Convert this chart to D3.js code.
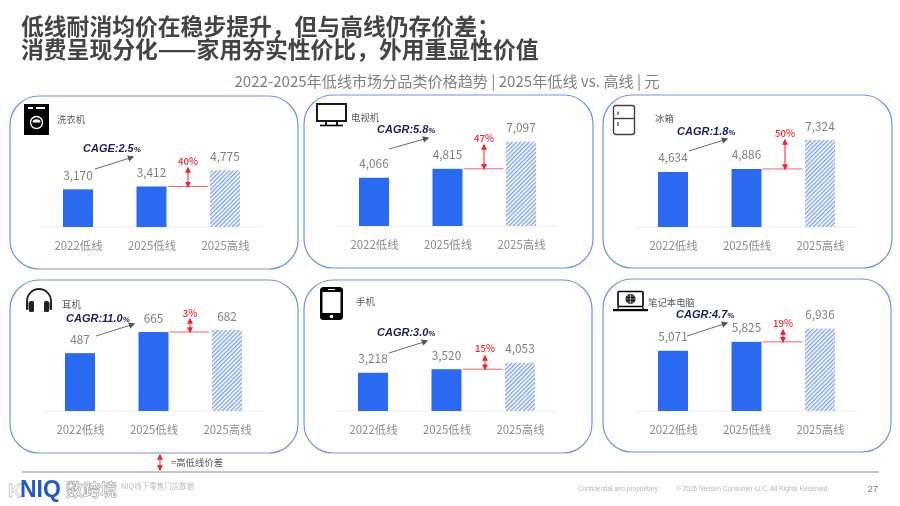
<!DOCTYPE html>
<html>
<head>
<meta charset="utf-8">
<script src="https://cdn.jsdelivr.net/npm/d3@7"></script>
<style>
    html, body { margin: 0; padding: 0; background: #fff; }
    svg { display: block; filter: blur(0.35px); }
    text { font-family: "Noto Sans CJK SC", "Noto Sans", sans-serif; }
    .latin { font-family: "Liberation Sans", sans-serif; }
</style>
</head>
<body>
<div id="chart"></div>
<script>
// chart data
var categories = ["2022低线", "2025低线", "2025高线"];
var products = ["洗衣机", "电视机", "冰箱", "耳机", "手机", "笔记本电脑"];
var prices = [
    [3170, 3412, 4775],
    [4066, 4815, 7097],
    [4634, 4886, 7324],
    [487, 665, 682],
    [3218, 3520, 4053],
    [5071, 5825, 6936]
];
var cagrLabels = ["CAGE:2.5", "CAGR:5.8", "CAGR:1.8", "CAGR:11.0", "CAGR:3.0", "CAGR:4.7"];
var gapLabels = ["40%", "47%", "50%", "3%", "15%", "19%"];
var axisMax = [8000, 8000, 8000, 800, 8000, 8000];

var titleLines = ["低线耐消均价在稳步提升，但与高线仍存价差；", "消费呈现分化——家用夯实性价比，外用重显性价值"];
var subtitle = "2022-2025年低线市场分品类价格趋势 | 2025年低线 vs. 高线 | 元";

// panel layout, all in page pixels
var layout = [
    {x: 10, y: 96, w: 288, bar0: 78, base: 227, nameX: 57, nameY: 119, cagrX: 83, cagrY: 148, arrow: [95, 169, 133, 157], gapX: 188, gapTop: 168, gapLabelY: 161},
    {x: 304, y: 95, w: 289, bar0: 374, base: 226, nameX: 351, nameY: 117, cagrX: 377, cagrY: 129, arrow: [389, 149, 428, 138], gapX: 484, gapTop: 145, gapLabelY: 138},
    {x: 603, y: 95, w: 289, bar0: 673, base: 227, nameX: 655, nameY: 118, cagrX: 677, cagrY: 131, arrow: [689, 151, 727, 139], gapX: 785, gapTop: 140, gapLabelY: 133},
    {x: 10, y: 280, w: 288, bar0: 80, base: 411, nameX: 62, nameY: 304, cagrX: 66, cagrY: 318, arrow: [96, 336, 134, 324], gapX: 190, gapTop: 319, gapLabelY: 313},
    {x: 304, y: 280, w: 288, bar0: 373, base: 411, nameX: 356, nameY: 301, cagrX: 377, cagrY: 332, arrow: [389, 353, 427, 341], gapX: 485, gapTop: 356, gapLabelY: 348},
    {x: 603, y: 279, w: 288, bar0: 673, base: 411, nameX: 648, nameY: 302, cagrX: 676, cagrY: 314, arrow: [687, 336, 727, 323], gapX: 783, gapTop: 330, gapLabelY: 323}
];

var PANEL_H = 173;
var BAR_W = 30;
var BAR_STEP = 73.5;
var PLOT_H = 95;
var BLUE = "#2a6af0";
var RED = "#f0232d";

var svg = d3.select("#chart").append("svg")
    .attr("width", 900)
    .attr("height", 506);

var defs = svg.append("defs");

var hatch = defs.append("pattern")
    .attr("id", "hatch")
    .attr("patternUnits", "userSpaceOnUse")
    .attr("width", 3)
    .attr("height", 3)
    .attr("patternTransform", "rotate(45)");
hatch.append("rect").attr("width", 3).attr("height", 3).attr("fill", "#fff");
hatch.append("rect").attr("width", 1.4).attr("height", 3).attr("fill", "#7fa3ea");

function addMarker(id, color, size) {
    defs.append("marker")
        .attr("id", id)
        .attr("viewBox", "0 0 10 10")
        .attr("refX", 8)
        .attr("refY", 5)
        .attr("markerUnits", "userSpaceOnUse")
        .attr("markerWidth", size)
        .attr("markerHeight", size)
        .attr("orient", "auto-start-reverse")
        .append("path")
        .attr("d", "M0,0L10,5L0,10Z")
        .attr("fill", color);
}
addMarker("head-grey", "#555", 6.5);
addMarker("head-red", RED, 6);

// heading
svg.selectAll(".title")
    .data(titleLines)
    .enter()
    .append("text")
    .classed("title", true)
    .attr("x", 21)
    .attr("y", function(d, i) {return 35 + i * 23;})
    .attr("font-size", 22.8)
    .attr("font-weight", 700)
    .attr("fill", "#444")
    .text(function(d) {return d;});

svg.append("text")
    .attr("x", 447)
    .attr("y", 87)
    .attr("text-anchor", "middle")
    .attr("font-size", 15.1)
    .attr("fill", "#7f7f7f")
    .text(subtitle);

function doubleArrow(g, x, y0, y1) {
    g.append("line")
        .attr("x1", x).attr("x2", x)
        .attr("y1", y0).attr("y2", y1)
        .attr("stroke", RED)
        .attr("stroke-width", 1)
        .attr("marker-start", "url(#head-red)")
        .attr("marker-end", "url(#head-red)");
}

function drawPanel(i) {
    var box = layout[i];
    var values = prices[i];
    var g = svg.append("g").classed("panel", true);

    g.append("rect")
        .attr("x", box.x)
        .attr("y", box.y)
        .attr("width", box.w)
        .attr("height", PANEL_H)
        .attr("rx", 29)
        .attr("fill", "#fff")
        .attr("stroke", "#6d95e2")
        .attr("stroke-width", 1.2);

    var xScale = d3.scalePoint()
        .domain(categories)
        .range([box.bar0, box.bar0 + 2 * BAR_STEP]);
    var yScale = d3.scaleLinear()
        .domain([0, axisMax[i]])
        .range([box.base, box.base - PLOT_H]);

    // category axis, no ticks, light domain line
    var axis = g.append("g")
        .attr("transform", "translate(0," + box.base + ")")
        .call(d3.axisBottom(xScale).tickSize(0).tickPadding(14.5));
    axis.select(".domain").remove();
    axis.selectAll("text")
        .attr("font-size", 11.4)
        .attr("font-family", "'Noto Sans CJK SC', sans-serif")
        .attr("fill", "#8c8c8c");
    g.append("line")
        .attr("x1", box.bar0 - 37)
        .attr("x2", box.bar0 + 2 * BAR_STEP + 37)
        .attr("y1", box.base)
        .attr("y2", box.base)
        .attr("stroke", "#eeeeee");

    g.selectAll(".bar")
        .data(values)
        .enter()
        .append("rect")
        .classed("bar", true)
        .attr("x", function(d, j) {return xScale(categories[j]) - BAR_W / 2;})
        .attr("y", function(d) {return yScale(d);})
        .attr("width", BAR_W)
        .attr("height", function(d) {return box.base - yScale(d);})
        .attr("fill", function(d, j) {return j == 2 ? "url(#hatch)" : BLUE;});

    g.selectAll(".value")
        .data(values)
        .enter()
        .append("text")
        .classed("value", true)
        .attr("x", function(d, j) {return xScale(categories[j]);})
        .attr("y", function(d) {return yScale(d) - 9.5;})
        .attr("text-anchor", "middle")
        .attr("font-size", 11.8)
        .attr("fill", "#7f7f7f")
        .text(d3.format(","));

    g.append("text")
        .attr("x", box.nameX)
        .attr("y", box.nameY + 3.5)
        .attr("font-size", 9.4)
        .attr("fill", "#595959")
        .text(products[i]);

    // growth annotation
    var cagr = g.append("text")
        .classed("latin", true)
        .attr("x", box.cagrX)
        .attr("y", box.cagrY + 4)
        .attr("font-size", 11)
        .attr("font-weight", 700)
        .attr("font-style", "italic")
        .attr("fill", "#1a1f5c")
        .text(cagrLabels[i]);
    cagr.append("tspan")
        .attr("font-size", 8)
        .text("%");

    g.append("line")
        .attr("x1", box.arrow[0])
        .attr("y1", box.arrow[1])
        .attr("x2", box.arrow[2])
        .attr("y2", box.arrow[3])
        .attr("stroke", "#595959")
        .attr("stroke-width", 0.9)
        .attr("marker-end", "url(#head-grey)");

    // gap between low and high tier
    var lowY = yScale(values[1]);
    var lineLeft = xScale(categories[1]) + BAR_W / 2 + 1;
    g.append("line")
        .attr("x1", lineLeft)
        .attr("x2", lineLeft + 40)
        .attr("y1", lowY)
        .attr("y2", lowY)
        .attr("stroke", "#f4606a")
        .attr("stroke-width", 1);
    doubleArrow(g, box.gapX, box.gapTop, lowY);
    g.append("text")
        .attr("x", box.gapX)
        .attr("y", box.gapLabelY + 3.5)
        .attr("text-anchor", "middle")
        .attr("font-size", 9.6)
        .attr("font-weight", 500)
        .attr("fill", RED)
        .text(gapLabels[i]);
}

d3.range(products.length).forEach(drawPanel);

// product icons
function iconWasher() {
    var g = svg.append("g").attr("transform", "translate(24,104)");
    g.append("rect").attr("width", 25).attr("height", 31).attr("fill", "#000");
    g.append("rect").attr("x", 4).attr("y", 3).attr("width", 5).attr("height", 2).attr("fill", "#fff");
    g.append("rect").attr("x", 12).attr("y", 3).attr("width", 9).attr("height", 2).attr("fill", "#fff");
    g.append("circle").attr("cx", 12.5).attr("cy", 18.5).attr("r", 6).attr("fill", "none").attr("stroke", "#fff").attr("stroke-width", 1.4);
    g.append("path").attr("d", "M8.5,18.5a4,3.2 0 0 1 8,0Z").attr("fill", "#fff");
}
function iconTv() {
    var g = svg.append("g").attr("transform", "translate(316,103)");
    g.append("rect").attr("x", 1).attr("y", 1).attr("width", 29).attr("height", 17).attr("fill", "#fff").attr("stroke", "#000").attr("stroke-width", 1.8);
    g.append("path").attr("d", "M10,18V22M21,18V22").attr("stroke", "#000").attr("stroke-width", 1.8);
    g.append("path").attr("d", "M4,22.5H27").attr("stroke", "#000").attr("stroke-width", 1.6);
}
function iconFridge() {
    var g = svg.append("g").attr("transform", "translate(613,105)");
    g.append("rect").attr("x", 0.5).attr("y", 0.5).attr("width", 21).attr("height", 29).attr("rx", 2.5).attr("fill", "#fff").attr("stroke", "#404040").attr("stroke-width", 1.4);
    g.append("path").attr("d", "M0.5,13.5H21.5").attr("stroke", "#404040").attr("stroke-width", 1.4);
    g.append("path").attr("d", "M5,6.5V10M5,17V21").attr("stroke", "#404040").attr("stroke-width", 1.2);
}
function iconHeadphones() {
    var g = svg.append("g").attr("transform", "translate(25,287)");
    g.append("path").attr("d", "M2,19V14A12,12 0 0 1 26,14V19").attr("fill", "none").attr("stroke", "#222").attr("stroke-width", 1.8);
    g.append("rect").attr("x", 4).attr("y", 14).attr("width", 5).attr("height", 11).attr("rx", 1.5).attr("fill", "#222");
    g.append("rect").attr("x", 19).attr("y", 14).attr("width", 5).attr("height", 11).attr("rx", 1.5).attr("fill", "#222");
    g.append("rect").attr("x", 1).attr("y", 15).attr("width", 2.5).attr("height", 8).attr("rx", 1).attr("fill", "#222");
    g.append("rect").attr("x", 24.5).attr("y", 15).attr("width", 2.5).attr("height", 8).attr("rx", 1).attr("fill", "#222");
}
function iconPhone() {
    var g = svg.append("g").attr("transform", "translate(320,287)");
    g.append("rect").attr("width", 23).attr("height", 33).attr("rx", 3.5).attr("fill", "#000");
    g.append("rect").attr("x", 2.5).attr("y", 5).attr("width", 18).attr("height", 21).attr("fill", "#fff");
    g.append("rect").attr("x", 8).attr("y", 2).attr("width", 7).attr("height", 1).attr("fill", "#fff");
    g.append("circle").attr("cx", 11.5).attr("cy", 29.5).attr("r", 1.8).attr("fill", "#fff");
}
function iconLaptop() {
    var g = svg.append("g").attr("transform", "translate(613,291)");
    g.append("rect").attr("x", 5).attr("y", 0.5).attr("width", 25).attr("height", 15).attr("rx", 1).attr("fill", "#fff").attr("stroke", "#000").attr("stroke-width", 1.6);
    g.append("rect").attr("x", 0).attr("y", 18).attr("width", 35).attr("height", 2.2).attr("fill", "#000");
    g.append("path").attr("d", "M5,16V18M30,16V18").attr("stroke", "#000").attr("stroke-width", 1.2);
    g.append("circle").attr("cx", 17.5).attr("cy", 8).attr("r", 5).attr("fill", "#111");
    g.append("path").attr("d", "M12.5,8H22.5M17.5,3V13M14,5H21M14,11H21").attr("stroke", "#fff").attr("stroke-width", 0.5);
}
iconWasher();
iconTv();
iconFridge();
iconHeadphones();
iconPhone();
iconLaptop();

// footer
var legend = svg.append("g");
doubleArrow(legend, 160, 455, 470);
legend.append("text")
    .attr("x", 171)
    .attr("y", 465.5)
    .attr("font-size", 9.4)
    .attr("fill", "#595959")
    .text("=高低线价差");

svg.append("line")
    .attr("x1", 22).attr("x2", 879)
    .attr("y1", 472).attr("y2", 472)
    .attr("stroke", "#8c8c8c")
    .attr("stroke-width", 1.2);

svg.append("text")
    .attr("x", 121)
    .attr("y", 489)
    .attr("font-size", 7.5)
    .attr("fill", "#bdbdbd")
    .text("NIQ线下零售门店数据");

svg.append("text")
    .classed("latin", true)
    .attr("x", 578)
    .attr("y", 491)
    .attr("font-size", 6.5)
    .attr("fill", "#b5b5b5")
    .text("Confidential and proprietary");
svg.append("text")
    .classed("latin", true)
    .attr("x", 676)
    .attr("y", 491)
    .attr("font-size", 6.55)
    .attr("fill", "#b5b5b5")
    .text("© 2026 Nielsen Consumer LLC. All Rights Reserved.");
svg.append("text")
    .classed("latin", true)
    .attr("x", 878)
    .attr("y", 492)
    .attr("text-anchor", "end")
    .attr("font-size", 9.5)
    .attr("fill", "#7f7f7f")
    .text("27");

// logo with the site mark over it
svg.append("text")
    .classed("latin", true)
    .attr("x", 8)
    .attr("y", 497)
    .attr("font-size", 19)
    .attr("font-weight", 700)
    .attr("fill", "#fff")
    .attr("stroke", "#c4c4c4")
    .attr("stroke-width", 0.8)
    .text("K");
svg.append("text")
    .classed("latin", true)
    .attr("x", 20)
    .attr("y", 497)
    .attr("font-size", 23)
    .attr("font-weight", 700)
    .attr("fill", "#2456c8")
    .text("NIQ");
svg.append("text")
    .attr("x", 66)
    .attr("y", 495.5)
    .attr("font-size", 17)
    .attr("font-weight", 700)
    .attr("fill", "#fff")
    .attr("stroke", "#a8a8a8")
    .attr("stroke-width", 0.7)
    .text("数跨境");
</script>
</body>
</html>
